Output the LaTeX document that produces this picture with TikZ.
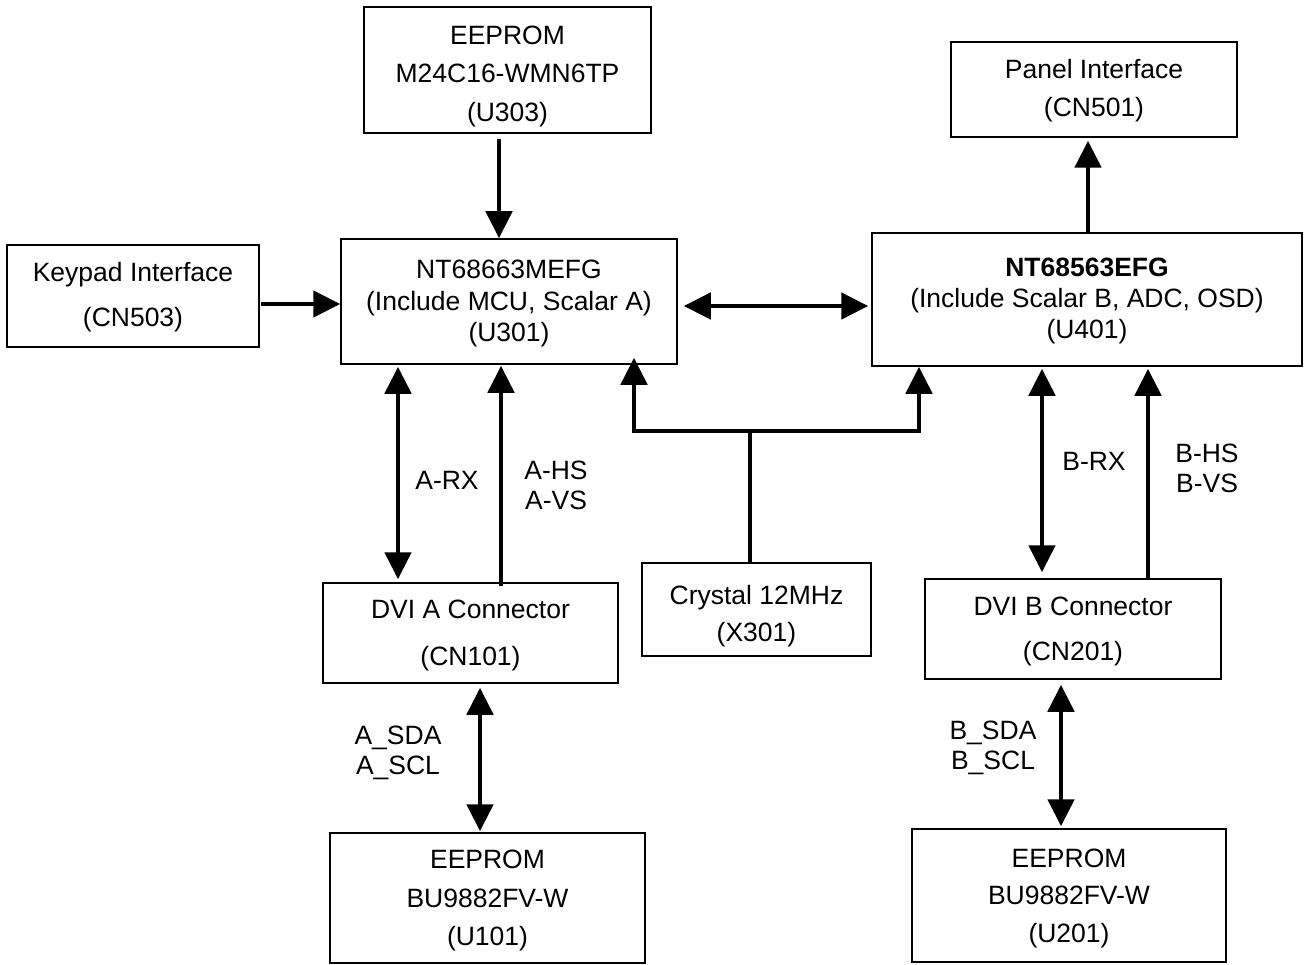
\documentclass[tikz,border=0pt]{standalone}
\usepackage{fontspec}
\setmainfont{Liberation Sans}
\usetikzlibrary{arrows.meta}
\newcommand\dfs[1]{\fontsize{26.5}{#1}\selectfont}
\newcommand\tpush[1]{\rule{0pt}{#1}}
\begin{document}
\begin{tikzpicture}[x=1pt,y=-1pt,
  box/.style={draw, line width=1.5pt, inner sep=0pt, align=center},
  arr/.style={line width=4.8pt, -{Triangle[length=27pt,width=26pt]}},
  darr/.style={line width=4.8pt, line join=miter, {Triangle[length=27pt,width=26pt]}-{Triangle[length=27pt,width=26pt]}},
  wire/.style={line width=4.8pt},
  lbl/.style={align=center, inner sep=0pt, font=\dfs{30}}]

\useasboundingbox (0,0) rectangle (1305,965);
\fill[white] (0,0) rectangle (1305,965);

% boxes
\node[box, minimum width=287pt, minimum height=126pt, font=\dfs{38.5}] (u303) at (507.5,70) {\tpush{31pt}EEPROM\\M24C16-WMN6TP\\(U303)};
\node[box, minimum width=286pt, minimum height=95pt, font=\dfs{38}] (panel) at (1094,89.5) {\tpush{22pt}Panel Interface\\(CN501)};
\node[box, minimum width=252pt, minimum height=102pt, font=\dfs{45}] (keypad) at (133,296) {\tpush{21pt}Keypad Interface\\(CN503)};
\node[box, minimum width=336pt, minimum height=125pt, font=\dfs{31.5}] (u301) at (509,301.5) {\tpush{23pt}NT68663MEFG\\(Include MCU, Scalar A)\\(U301)};
\node[box, minimum width=430pt, minimum height=133pt, font=\dfs{31}] (u401) at (1087,299.5) {\tpush{21pt}\textbf{NT68563EFG}\\(Include Scalar B, ADC, OSD)\\(U401)};
\node[box, minimum width=295pt, minimum height=100pt, font=\dfs{47}] (cn101) at (470.5,633) {\tpush{24pt}DVI A Connector\\(CN101)};
\node[box, minimum width=229pt, minimum height=93pt, font=\dfs{37}] (x301) at (756.5,609.5) {\tpush{33pt}Crystal 12MHz\\(X301)};
\node[box, minimum width=296pt, minimum height=100pt, font=\dfs{45}] (cn201) at (1073,629) {\tpush{24pt}DVI B Connector\\(CN201)};
\node[box, minimum width=315pt, minimum height=130pt, font=\dfs{38.5}] (u101) at (487.5,898) {\tpush{24pt}EEPROM\\BU9882FV-W\\(U101)};
\node[box, minimum width=314pt, minimum height=133pt, font=\dfs{37.5}] (u201) at (1069,895.5) {\tpush{24pt}EEPROM\\BU9882FV-W\\(U201)};

% labels
\node[lbl] (lARX) at (447,480) {A-RX};
\node[lbl] (lAHS) at (556,485) {A-HS\\A-VS};
\node[lbl] (lBRX) at (1094,461) {B-RX};
\node[lbl] (lBHS) at (1207,468) {B-HS\\B-VS};
\node[lbl] (lASDA) at (398,753) {A\_SDA\\A\_SCL};
\node[lbl] (lBSDA) at (993,748) {B\_SDA\\B\_SCL};

% connectors
\draw[arr] ([xshift=-8.5pt,yshift=-5pt]u303.south) -- ([xshift=-10pt]u301.north);
\draw[arr] ([xshift=1pt]u401.north) -- ([xshift=-6pt,yshift=-3pt]panel.south);
\draw[arr] ([xshift=1pt,yshift=-8pt]keypad.east) -- ([yshift=-2.5pt]u301.west);
\draw[darr] ([xshift=6pt,yshift=-4.5pt]u301.east) -- ([xshift=-3pt,yshift=-6.5pt]u401.west);
\draw[darr] ([xshift=-111pt,yshift=-2pt]u301.south) -- ([xshift=-72.5pt,yshift=3pt]cn101.north);
\draw[arr] ([xshift=30.5pt,yshift=-4pt]cn101.north) -- ([xshift=-8pt,yshift=-1pt]u301.south);
\coordinate (junL) at (634,431);
\coordinate (junR) at (919,431);
\coordinate (junM) at (750,431);
\draw[darr] ([xshift=125pt,yshift=7pt]u301.south) -- (junL) -- (junR) -- ([xshift=-168pt]u401.south);
\draw[wire] ([xshift=-6.5pt]x301.north) -- (junM);
\draw[darr] ([xshift=-45pt,yshift=-2pt]u401.south) -- ([xshift=-31pt,yshift=6pt]cn201.north);
\draw[arr] ([xshift=75pt]cn201.north) -- ([xshift=61pt,yshift=-2pt]u401.south);
\draw[darr] ([xshift=9.5pt,yshift=-4pt]cn101.south) -- ([xshift=-7.5pt,yshift=1pt]u101.north);
\draw[darr] ([xshift=-12pt,yshift=-5pt]cn201.south) -- ([xshift=-8pt,yshift=2pt]u201.north);
\end{tikzpicture}
\end{document}
